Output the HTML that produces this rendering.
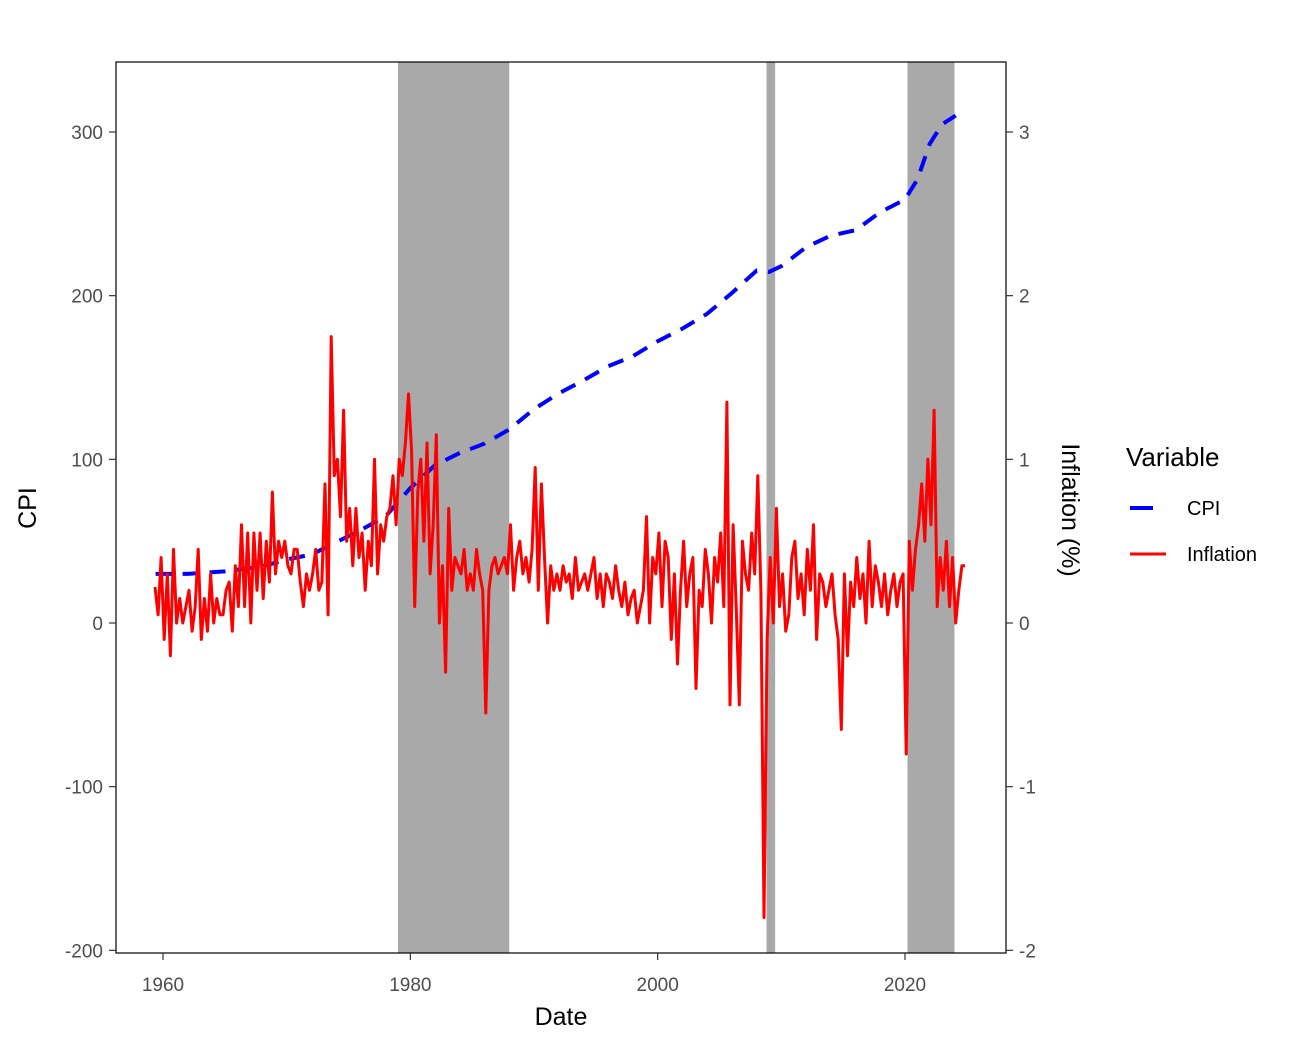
<!DOCTYPE html>
<html><head><meta charset="utf-8"><style>
html,body{margin:0;padding:0;background:#fff;}
svg{display:block;font-family:"Liberation Sans",Arial,sans-serif;}
</style></head><body>
<svg id="chart" width="1298" height="1046" viewBox="0 0 1298 1046">
  <rect x="0" y="0" width="1298" height="1046" fill="#fff"/>
  <g id="shades"></g>
  <g id="lines"></g>
  <rect x="116" y="62" width="890" height="891" fill="none" stroke="#000" stroke-width="1.2"/>
  <g id="axes"></g>
  <text x="561" y="1025" font-size="25" text-anchor="middle" fill="#000">Date</text>
  <text transform="translate(36,508) rotate(-90)" font-size="25" text-anchor="middle" fill="#000">CPI</text>
  <text transform="translate(1062,510) rotate(90)" font-size="25" text-anchor="middle" fill="#000">Inflation (%)</text>
  <g>
    <text x="1126" y="466" font-size="26" fill="#000">Variable</text>
    <g>
      <line x1="1130" y1="508" x2="1166" y2="508" stroke="#0000ff" stroke-width="4" stroke-dasharray="23 13"/>
      <text x="1187" y="515" font-size="20" fill="#000">CPI</text>
    </g>
    <g>
      <line x1="1130" y1="554" x2="1166" y2="554" stroke="#ff0000" stroke-width="3"/>
      <text x="1187" y="561" font-size="20" fill="#000">Inflation</text>
    </g>
  </g>
</svg>
<script>
const NS="http://www.w3.org/2000/svg";
const recessionStarts=[1979.0,2008.8,2020.2];
const recessionEnds=[1988.0,2009.5,2024.0];
const cpiDates=[1959.4,1962,1965,1968,1970,1972,1974,1976,1978,1980,1982,1984,1986,1988,1990,1992,1994,1996,1998,2000,2002,2004,2006,2008,2009,2010,2012,2014,2016,2018,2020,2021,2022,2023,2024.1];
const cpiValues=[30,30,31.5,34.5,38.8,41.8,49.3,56.9,65.2,82.4,96.5,103.9,109.6,118.3,130.7,140.3,148.2,156.9,163,172.2,179.9,188.9,201.6,215.3,214.5,218,229.6,236.7,240,251,258.8,271,292.7,304.7,310];
const inflStartYear=1959.35;
const inflValues=[0.22,0.05,
0.4,-0.1,0.3,-0.2,
0.45,0.0,0.15,0.0,
0.1,0.2,-0.05,0.1,
0.45,-0.1,0.15,-0.05,
0.3,0.0,0.15,0.05,
0.05,0.2,0.25,-0.05,
0.35,0.1,0.6,0.1,
0.55,0.0,0.55,0.2,
0.55,0.15,0.5,0.25,
0.8,0.3,0.5,0.4,
0.5,0.35,0.3,0.45,
0.45,0.25,0.1,0.3,
0.2,0.3,0.45,0.2,
0.25,0.85,0.05,1.75,
0.9,1.0,0.65,1.3,
0.5,0.7,0.35,0.7,
0.4,0.55,0.2,0.5,
0.35,1.0,0.3,0.6,
0.5,0.65,0.7,0.9,
0.6,1.0,0.9,1.1,
1.4,1.05,0.1,0.8,
1.0,0.5,1.1,0.3,
0.6,1.15,0.0,0.35,
-0.3,0.7,0.2,0.4,
0.35,0.3,0.45,0.2,
0.3,0.2,0.45,0.3,
0.2,-0.55,0.2,0.35,
0.4,0.3,0.35,0.4,
0.3,0.6,0.2,0.4,
0.5,0.3,0.4,0.25,
0.45,0.95,0.2,0.85,
0.4,0.0,0.35,0.2,
0.3,0.2,0.35,0.25,
0.3,0.15,0.4,0.2,
0.25,0.3,0.2,0.3,
0.4,0.15,0.3,0.1,
0.3,0.25,0.15,0.35,
0.2,0.1,0.25,0.05,
0.15,0.2,0.0,0.1,
0.2,0.65,0.0,0.4,
0.3,0.55,0.1,0.5,
0.4,-0.1,0.3,-0.25,
0.2,0.5,0.1,0.3,
0.4,-0.4,0.2,0.1,
0.45,0.3,0.0,0.4,
0.25,0.55,0.1,1.35,
-0.5,0.6,0.1,-0.5,
0.5,0.3,0.2,0.55,
0.3,0.9,0.2,-1.8,
-0.1,0.4,0.0,0.7,
0.1,0.3,-0.05,0.05,
0.4,0.5,0.15,0.3,
0.05,0.45,0.2,0.6,
-0.1,0.3,0.25,0.1,
0.2,0.3,0.05,-0.1,
-0.65,0.3,-0.2,0.25,
0.1,0.4,0.15,0.3,
0.0,0.5,0.1,0.35,
0.25,0.1,0.3,0.05,
0.2,0.3,0.1,0.25,
0.3,-0.8,0.5,0.2,
0.45,0.6,0.85,0.5,
1.0,0.6,1.3,0.1,
0.4,0.2,0.5,0.1,
0.4,0.0,0.2,0.35,0.35];
const xTicks=[1960,1980,2000,2020];
const yTicks=[-200,-100,0,100,200,300];
const y2Ticks=[-2,-1,0,1,2,3];

function xs(yr){return 163+(yr-1960)*(905-163)/60;}
function ys(v){return 623-v*(623-132)/300;}
function ys2(p){return ys(p*100);}

const shades=document.getElementById('shades');
for(let i=0;i<recessionStarts.length;i++){
  const r=document.createElementNS(NS,'rect');
  r.setAttribute('x',xs(recessionStarts[i]));
  r.setAttribute('y',62);
  r.setAttribute('width',xs(recessionEnds[i])-xs(recessionStarts[i]));
  r.setAttribute('height',891);
  r.setAttribute('fill','#a9a9a9');
  
  
  shades.appendChild(r);
}
const lines=document.getElementById('lines');
let d='';
cpiDates.forEach((t,i)=>{d+=(i?'L':'M')+xs(t).toFixed(1)+','+ys(cpiValues[i]).toFixed(1);});
const cp=document.createElementNS(NS,'path');
cp.setAttribute('d',d);cp.setAttribute('fill','none');cp.setAttribute('stroke','#0000ff');
cp.setAttribute('stroke-width','4');cp.setAttribute('stroke-dasharray','16 11');


lines.appendChild(cp);
let d2='';
inflValues.forEach((v,i)=>{const t=inflStartYear+i*0.25;d2+=(i?'L':'M')+xs(t).toFixed(1)+','+ys2(v).toFixed(1);});
const ip=document.createElementNS(NS,'path');
ip.setAttribute('d',d2);ip.setAttribute('fill','none');ip.setAttribute('stroke','#ff0000');
ip.setAttribute('stroke-width','3');ip.setAttribute('stroke-linejoin','round');


lines.appendChild(ip);

const axes=document.getElementById('axes');
function add(tag,attrs,txt,name){const e=document.createElementNS(NS,tag);for(const k in attrs)e.setAttribute(k,attrs[k]);if(txt!==undefined)e.textContent=txt;axes.appendChild(e);return e;}
xTicks.forEach(t=>{
  const l=add('line',{x1:xs(t),x2:xs(t),y1:953,y2:960,stroke:'#333','stroke-width':1.2});
  
  
  const tx=add('text',{x:xs(t),y:991,'font-size':19,'text-anchor':'middle',fill:'#4d4d4d'},String(t));
  
  
});
yTicks.forEach(v=>{
  const l=add('line',{x1:109,x2:116,y1:ys(v),y2:ys(v),stroke:'#333','stroke-width':1.2});
  
  
  const tx=add('text',{x:103,y:ys(v)+7,'font-size':19,'text-anchor':'end',fill:'#4d4d4d'},String(v));
  
  
});
y2Ticks.forEach(v=>{
  const l=add('line',{x1:1006,x2:1013,y1:ys2(v),y2:ys2(v),stroke:'#333','stroke-width':1.2});
  
  
  const tx=add('text',{x:1019,y:ys2(v)+7,'font-size':19,'text-anchor':'start',fill:'#4d4d4d'},v<0?'-'+Math.abs(v):String(v));
  
  
});
</script>
</body></html>
